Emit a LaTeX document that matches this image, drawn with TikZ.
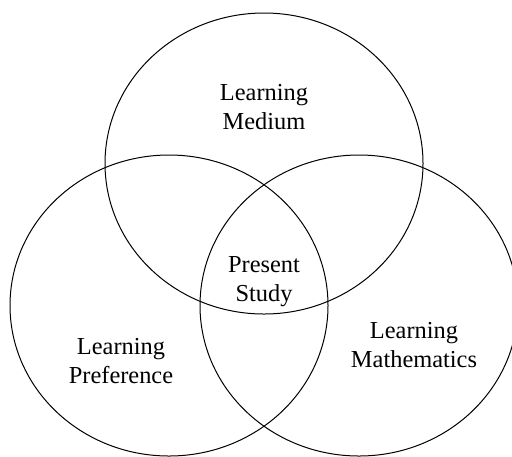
\documentclass[tikz,border=0pt]{standalone}
\usepackage{fontspec}
\setmainfont{Liberation Serif}
\newcommand{\rx}{79.5pt}
\newcommand{\ry}{75.25pt}
\tikzset{label text/.style={align=center,font=\fontsize{12.2}{14.5}\selectfont,inner sep=0pt}}

\begin{document}
\begin{tikzpicture}[x=0.5pt,y=-0.5pt,line width=0.5pt]
   \useasboundingbox (0,0) rectangle (512,456);
   \draw (264,163.5) ellipse [x radius=\rx, y radius=\ry];
   \draw (169,305.5) ellipse [x radius=\rx, y radius=\ry];
   \draw (359,305.5) ellipse [x radius=\rx, y radius=\ry];
   \node[label text] (medium)  at (264,107) {Learning\\Medium};
   \node[label text] (present) at (264,282) {Present\\Study};
   \node[label text] (pref)    at (121,361) {Learning\\Preference};
   \node[label text] (maths)   at (414,345) {Learning\\Mathematics};
\end{tikzpicture}
\end{document}
